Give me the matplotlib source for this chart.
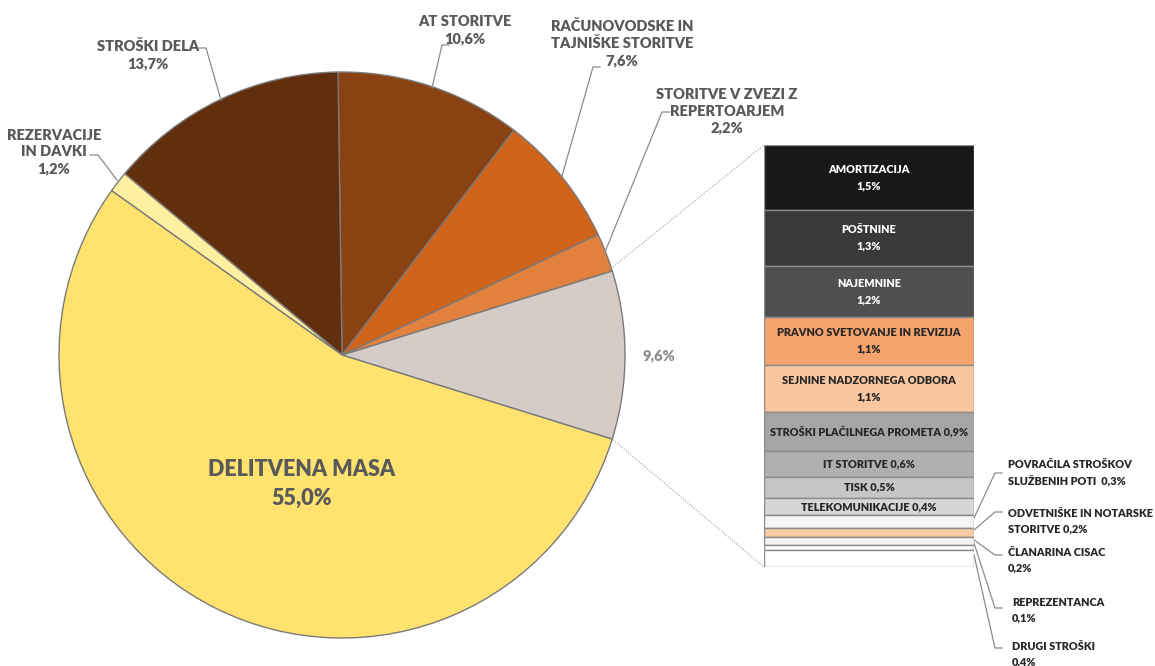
import matplotlib
matplotlib.use("Agg")
import matplotlib.pyplot as plt
import numpy as np

plt.rcParams['font.family'] = ['Lato', 'DejaVu Sans']

# ---- data ----
pie_labels = ["", "STORITVE V ZVEZI Z\nREPERTOARJEM\n2,2%", "RAČUNOVODSKE IN\nTAJNIŠKE STORITVE\n7,6%",
              "AT STORITVE\n10,6%", "STROŠKI DELA\n13,7%", "REZERVACIJE\nIN DAVKI\n1,2%",
              "DELITVENA MASA\n55,0%"]
pie_values = [9.6, 2.2, 7.6, 10.6, 13.7, 1.2, 55.0]
pie_colors = ['#D5CCC7', '#E2803D', '#D0641A', '#8B4213', '#612F0E', '#FFEFA0', '#FFE36E']

bar_names = ["AMORTIZACIJA", "POŠTNINE", "NAJEMNINE", "PRAVNO SVETOVANJE IN REVIZIJA",
             "SEJNINE NADZORNEGA ODBORA", "STROŠKI PLAČILNEGA PROMETA", "IT STORITVE", "TISK",
             "TELEKOMUNIKACIJE", "POVRAČILA STROŠKOV\nSLUŽBENIH POTI ", "ODVETNIŠKE IN NOTARSKE\nSTORITVE",
             "ČLANARINA CISAC\n", "REPREZENTANCA\n", "DRUGI STROŠKI\n"]
bar_values = [1.5, 1.3, 1.2, 1.1, 1.1, 0.9, 0.6, 0.5, 0.4, 0.3, 0.2, 0.2, 0.1, 0.4]
bar_colors = ['#181818', '#393939', '#4f4f4f', '#F4A36D', '#F9C6A0', '#A5A5A5', '#B0B0B0',
              '#C6C6C6', '#D6D6D6', '#F4F4F4', '#F9CBA4', '#F4F4F4', '#FFFFFF', '#FFFFFF']

W, H = 1155, 666
fig = plt.figure(figsize=(W / 100, H / 100), dpi=100)
ax = fig.add_axes([0, 0, 1, 1])

def P(x, y):
    return (x, H - y)

cx, cy = P(342, 355)
R = 283
explode = [0.012, 0, 0, 0, 0, 0.02, 0]
wedges, _ = ax.pie(pie_values, colors=pie_colors, startangle=-17.3, counterclock=True,
                   center=(cx, cy), radius=R, explode=explode,
                   wedgeprops=dict(edgecolor='#7a7a7a', linewidth=1.0))
for w in wedges:
    w.set_zorder(2)
ax.set_xlim(0, W)
ax.set_ylim(0, H)
ax.set_aspect('equal')
ax.axis('off')

txt = '#595959'
fs = 10.5
fw = 'heavy'
# pie labels
ax.text(*P(148, 55), pie_labels[4], ha='center', va='center', fontsize=fs, fontweight=fw,
        color=txt, linespacing=1.35)
ax.text(*P(54, 152), pie_labels[5], ha='center', va='center', fontsize=fs, fontweight=fw,
        color=txt, linespacing=1.35)
ax.text(*P(465, 30), pie_labels[3], ha='center', va='center', fontsize=fs, fontweight=fw,
        color=txt, linespacing=1.35)
ax.text(*P(622, 43), pie_labels[2], ha='center', va='center', fontsize=fs, fontweight=fw,
        color=txt, linespacing=1.35)
ax.text(*P(727, 111), pie_labels[1], ha='center', va='center', fontsize=fs, fontweight=fw,
        color=txt, linespacing=1.35)
ax.text(*P(659, 356), "9,6%", ha='center', va='center', fontsize=fs, fontweight=fw,
        color='#8c8c8c')
ax.text(*P(302, 484), pie_labels[6], ha='center', va='center', fontsize=15.5, fontweight=fw,
        color=txt, linespacing=1.45, zorder=5)

lc = '#8c8c8c'
leaders = [
    [(199, 48), (206, 48), (221, 100)],
    [(90, 155), (98, 155), (117, 180)],
    [(449, 45), (442, 45), (432, 88)],
    [(600, 67), (593, 67), (562, 176)],
    [(670, 112), (662, 112), (605, 252)],
]
for pts in leaders:
    xs, ys = zip(*[P(*p) for p in pts])
    ax.plot(xs, ys, color=lc, lw=0.9, zorder=3)

# dotted connectors pie -> bar
for a, b in [((613, 267), (764, 145)), ((611, 438), (764, 567))]:
    xs, ys = zip(P(*a), P(*b))
    ax.plot(xs, ys, color='#9a9a9a', lw=0.8, ls=(0, (1, 1.5)), zorder=1)

# ---- bar of pie ----
bx0, bx1, by0, by1 = 764, 974, 145, 567
bax = fig.add_axes([bx0 / W, (H - by1) / H, (bx1 - bx0) / W, (by1 - by0) / H])
total = sum(bar_values)
bottoms = np.concatenate([[0], np.cumsum(bar_values)[:-1]])
bax.bar([0] * len(bar_values), bar_values, bottom=bottoms, width=1.0, color=bar_colors,
        edgecolor='#8c8c8c', linewidth=1.0)
bax.set_xlim(-0.5, 0.5)
bax.set_ylim(total, 0)
bax.axis('off')

bfs = 7.8
for i in range(9):
    mid = bottoms[i] + bar_values[i] / 2
    col = 'white' if i < 3 else '#262626'
    val = f"{bar_values[i]:.1f}".replace('.', ',') + '%'
    if i < 5:
        s = bar_names[i] + "\n" + val
    else:
        s = bar_names[i] + " " + val
    bax.text(0, mid, s, ha='center', va='center', fontsize=bfs, fontweight=fw, color=col,
             linespacing=1.6)

# right-side labels for small segments
right = [
    (9, 473, 1008, 473),
    (10, 512, 1008, 521),
    (11, 555, 1008, 560),
    (12, 608, 1012, 610),
    (13, 648, 1012, 654),
]
seg_y = [518, 530, 540, 543, 555]
for (i, ly, tx, ty), sy in zip(right, seg_y):
    xs, ys = zip(P(974, sy), P(995, ly), P(1002, ly))
    ax.plot(xs, ys, color=lc, lw=0.9, zorder=3)
    val = f"{bar_values[i]:.1f}".replace('.', ',') + '%'
    name = bar_names[i]
    s = name + (" " if not name.endswith("\n") else "") + val
    ax.text(*P(tx, ty), s, ha='left', va='center', fontsize=7.8, fontweight=fw,
            color='#262626', linespacing=1.5)

fig.savefig('out.png', dpi=100)
